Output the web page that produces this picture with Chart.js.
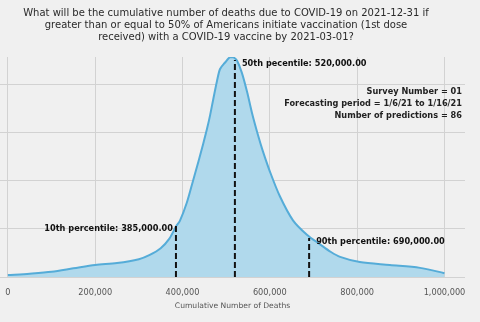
<!DOCTYPE html>
<html><head><meta charset="utf-8">
<script src="https://cdn.jsdelivr.net/npm/chart.js@4"></script>
<style>html,body{margin:0;padding:0;background:#f0f0f0;}canvas{display:block;}</style>
</head><body>
<canvas id="c" width="480" height="322"></canvas>
<script>
const titleLines = [
  "What will be the cumulative number of deaths due to COVID-19 on 2021-12-31 if",
  "greater than or equal to 50% of Americans initiate vaccination (1st dose",
  "received) with a COVID-19 vaccine by 2021-03-01?"
];
const deaths = [0, 50000, 100000, 150000, 200000, 250000, 300000, 325000, 350000, 370000, 385000, 394000, 410000, 424000, 437000, 447000, 456000, 463000, 470000, 479000, 486000, 497000, 509000, 517000, 525000, 536000, 548000, 559000, 573000, 584000, 600000, 623000, 653000, 685000, 715000, 740000, 761000, 806000, 875000, 944000, 1000000];
const density = [0.04, 0.07, 0.11, 0.18, 0.25, 0.29, 0.37, 0.46, 0.6, 0.8, 1.05, 1.17, 1.55, 2.0, 2.42, 2.76, 3.08, 3.36, 3.68, 4.08, 4.33, 4.46, 4.58, 4.57, 4.5, 4.25, 3.85, 3.42, 2.95, 2.62, 2.2, 1.68, 1.18, 0.88, 0.68, 0.52, 0.42, 0.31, 0.25, 0.19, 0.08];
const percentileNames = ["10th percentile", "50th pecentile", "90th percentile"];
const percentileValues = [385000, 520000, 690000];
const percentileHeights = [1.08, 4.52, 0.81];
const xTicks = [0, 200000, 400000, 600000, 800000, 1000000];
const yTicks = [0, 1, 2, 3, 4];
const infoLines = ["Survey Number = 01", "Forecasting period = 1/6/21 to 1/16/21", "Number of predictions = 86"];
const xAxisTitle = "Cumulative Number of Deaths";

Chart.defaults.font.family = "'DejaVu Sans'";

const fmt = v => v.toLocaleString('en-US');
const fmt2 = v => v.toLocaleString('en-US', {minimumFractionDigits: 2, maximumFractionDigits: 2});

const datasets = [];
percentileValues.forEach((v, i) => {
  datasets.push({
    data: [{x: v, y: 0}, {x: v, y: percentileHeights[i]}],
    borderColor: '#111111', borderWidth: 2, borderDash: [6, 3],
    pointRadius: 0, fill: false, order: 0
  });
});
datasets.push({
  data: deaths.map((d, i) => ({x: d, y: density[i]})),
  borderColor: '#55acd8', backgroundColor: '#b0d9ec', borderWidth: 2,
  fill: 'origin', pointRadius: 0, tension: 0.3, order: 1
});

const textPlugin = {
  id: 'texts',
  afterDatasetsDraw(chart) {
    const ctx = chart.ctx, xs = chart.scales.x, ys = chart.scales.y;
    ctx.save();
    ctx.textBaseline = 'middle';
    ctx.fillStyle = '#111111';
    ctx.font = "bold 8.2px 'DejaVu Sans'";
    percentileValues.forEach((v, i) => {
      const px = xs.getPixelForValue(v), py = ys.getPixelForValue(percentileHeights[i]) + 4;
      const label = percentileNames[i] + ': ' + fmt2(v);
      if (i === 0) { ctx.textAlign = 'right'; ctx.fillText(label, px - 3, py); }
      else { ctx.textAlign = 'left'; ctx.fillText(label, px + 7, py); }
    });
    ctx.textAlign = 'right';
    ctx.fillStyle = '#222222';
    infoLines.forEach((t, i) => ctx.fillText(t, chart.chartArea.right - 3, 92 + i * 12));
    ctx.restore();
  },
  afterDraw(chart) {
    const ctx = chart.ctx;
    ctx.save();
    ctx.textBaseline = 'middle';
    ctx.textAlign = 'center';
    ctx.fillStyle = '#2a2a2a';
    ctx.font = "10px 'DejaVu Sans'";
    titleLines.forEach((t, i) => ctx.fillText(t, 226, 13 + i * 12));
    ctx.restore();
  }
};

new Chart(document.getElementById('c'), {
  type: 'line',
  data: {datasets},
  options: {
    responsive: false, animation: false, devicePixelRatio: 1,
    layout: {padding: {top: 57, right: 15, left: 0, bottom: 0}},
    plugins: {legend: {display: false}, tooltip: {enabled: false}, title: {display: false}},
    scales: {
      x: {
        type: 'linear', min: -18000, max: 1047000,
        afterBuildTicks: s => { s.ticks = xTicks.map(v => ({value: v})); },
        afterFit: s => { s.height = 45; s.paddingLeft = 0; s.paddingRight = 0; },
        border: {display: false},
        grid: {color: '#d2d2d2', lineWidth: 1, drawTicks: false},
        ticks: {padding: 11, color: '#555555', font: {size: 8.2}, maxRotation: 0, callback: v => fmt(v)},
        title: {display: true, text: xAxisTitle, color: '#555555', font: {size: 7.6}, padding: {top: 0, bottom: 11}}
      },
      y: {
        min: 0, max: 4.58,
        afterBuildTicks: s => { s.ticks = yTicks.map(v => ({value: v})); },
        afterFit: s => { s.width = 0; s.paddingTop = 0; s.paddingBottom = 0; },
        border: {display: false},
        grid: {color: '#d2d2d2', lineWidth: 1, drawTicks: false},
        ticks: {display: false}
      }
    }
  },
  plugins: [textPlugin]
});
</script>
</body></html>
